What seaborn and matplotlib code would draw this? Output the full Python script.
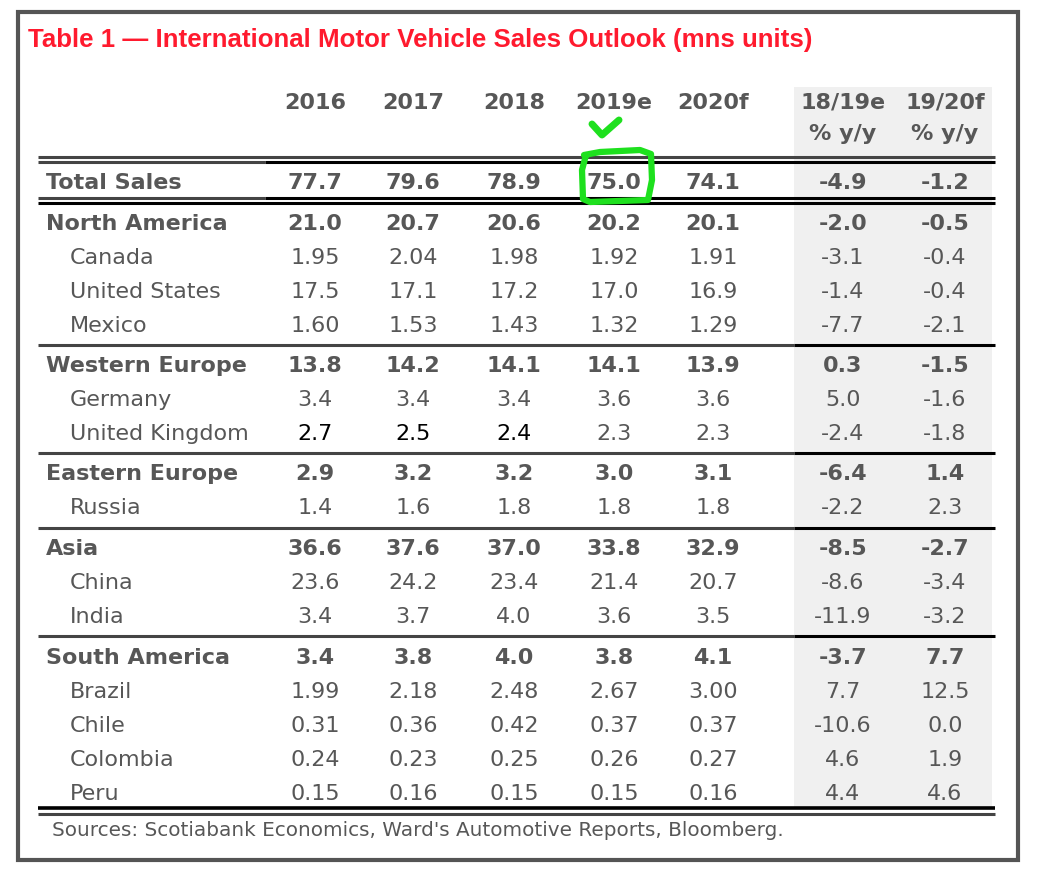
import matplotlib.pyplot as plt
import seaborn as sns
from matplotlib.patches import Rectangle

# =========================
# Data
# =========================
title = "Table 1 \u2014 International Motor Vehicle Sales Outlook (mns units)"
source = "Sources: Scotiabank Economics, Ward's Automotive Reports, Bloomberg."

year_cols = ["2016", "2017", "2018", "2019e", "2020f"]
yoy_top = ["18/19e", "19/20f"]
yoy_sub = ["% y/y", "% y/y"]

regions = ["Total Sales", "North America", "Canada", "United States", "Mexico",
           "Western Europe", "Germany", "United Kingdom",
           "Eastern Europe", "Russia",
           "Asia", "China", "India",
           "South America", "Brazil", "Chile", "Colombia", "Peru"]

v2016 = ["77.7", "21.0", "1.95", "17.5", "1.60", "13.8", "3.4", "2.7", "2.9", "1.4",
         "36.6", "23.6", "3.4", "3.4", "1.99", "0.31", "0.24", "0.15"]
v2017 = ["79.6", "20.7", "2.04", "17.1", "1.53", "14.2", "3.4", "2.5", "3.2", "1.6",
         "37.6", "24.2", "3.7", "3.8", "2.18", "0.36", "0.23", "0.16"]
v2018 = ["78.9", "20.6", "1.98", "17.2", "1.43", "14.1", "3.4", "2.4", "3.2", "1.8",
         "37.0", "23.4", "4.0", "4.0", "2.48", "0.42", "0.25", "0.15"]
v2019 = ["75.0", "20.2", "1.92", "17.0", "1.32", "14.1", "3.6", "2.3", "3.0", "1.8",
         "33.8", "21.4", "3.6", "3.8", "2.67", "0.37", "0.26", "0.15"]
v2020 = ["74.1", "20.1", "1.91", "16.9", "1.29", "13.9", "3.6", "2.3", "3.1", "1.8",
         "32.9", "20.7", "3.5", "4.1", "3.00", "0.37", "0.27", "0.16"]
yoy_1819 = ["-4.9", "-2.0", "-3.1", "-1.4", "-7.7", "0.3", "5.0", "-2.4", "-6.4", "-2.2",
            "-8.5", "-8.6", "-11.9", "-3.7", "7.7", "-10.6", "4.6", "4.4"]
yoy_1920 = ["-1.2", "-0.5", "-0.4", "-0.4", "-2.1", "-1.5", "-1.6", "-1.8", "1.4", "2.3",
            "-2.7", "-3.4", "-3.2", "7.7", "12.5", "0.0", "1.9", "4.6"]

group_rows = ["Total Sales", "North America", "Western Europe", "Eastern Europe",
              "Asia", "South America"]

# =========================
# Layout (pixel coordinates)
# =========================
sns.set_theme(style="white")
plt.rcParams['font.family'] = ['DejaVu Sans']

GREY = '#575757'
RED = '#FF1A2E'
GREEN = '#1EE01E'
FS = 16

fig = plt.figure(figsize=(10.46, 8.73), dpi=100)
ax = fig.add_axes([0, 0, 1, 1])
ax.set_xlim(0, 1046)
ax.set_ylim(873, 0)
ax.axis('off')

# outer frame
ax.add_patch(Rectangle((18, 12), 1000, 848, fill=False, ec='#555555', lw=3))

# shaded y/y columns
ax.add_patch(Rectangle((794, 87), 198, 720, fc='#F0F0F0', ec='none', zorder=0))

ax.text(28, 47, title, color=RED, fontsize=18.6, fontweight='bold', va='baseline',
        ha='left', family=['Liberation Sans', 'DejaVu Sans'])

col_x = [315, 413, 514, 614, 713]
yoy_x = [843, 945]

for x, lab in zip(col_x, year_cols):
    ax.text(x, 109, lab, color=GREY, fontsize=FS, fontweight='bold', ha='center', va='baseline')
for x, top, sub in zip(yoy_x, yoy_top, yoy_sub):
    ax.text(x, 109, top, color=GREY, fontsize=FS, fontweight='bold', ha='center', va='baseline')
    ax.text(x, 140, sub, color=GREY, fontsize=FS, fontweight='bold', ha='center', va='baseline')

# row positions (centre of each row)
row_y = []
y = 181
for i, r in enumerate(regions):
    if i > 0:
        y += 40.5 if r in group_rows else 34
    row_y.append(y)

cols = [v2016, v2017, v2018, v2019, v2020]
for i, r in enumerate(regions):
    bold = r in group_rows
    w = 'bold' if bold else 'normal'
    lx = 46 if bold else 70
    yb = row_y[i] + 8
    ax.text(lx, yb, r, color=GREY, fontsize=FS, fontweight=w, ha='left', va='baseline')
    for j, (x, vals) in enumerate(zip(col_x, cols)):
        c = 'black' if (r == "United Kingdom" and j < 3) else GREY
        ax.text(x, yb, vals[i], color=c, fontsize=FS, fontweight=w, ha='center', va='baseline')
    for x, vals in zip(yoy_x, [yoy_1819, yoy_1920]):
        ax.text(x, yb, vals[i], color=GREY, fontsize=FS, fontweight=w, ha='center', va='baseline')

# rules
x0, xm, x1 = 38, 265, 995
ax.hlines(157, x0, x1, color='#444444', lw=2.2)
ax.hlines(162, x0, xm, color='#444444', lw=2.2)
ax.hlines(162, xm, x1, color='black', lw=2.2)
ax.hlines(198, x0, xm, color='#444444', lw=2.2)
ax.hlines(198, xm, x1, color='black', lw=2.2)
ax.hlines(203, x0, x1, color='black', lw=2.2)

for i, r in enumerate(regions):
    if i > 1 and r in group_rows:
        ys = row_y[i - 1] + 21
        ax.hlines(ys, x0, 794, color='#444444', lw=2.2)
        ax.hlines(ys, 794, x1, color='black', lw=2.2)

yl = row_y[-1] + 16
ax.hlines(yl, x0, x1, color='black', lw=2.6)
ax.hlines(yl + 6, x0, x1, color='#444444', lw=2.2)

ax.text(52, yl + 28, source, color=GREY, fontsize=14.4, ha='left', va='baseline')

# hand-drawn highlight on 2019e total
ax.plot([584, 600, 640, 651, 652, 648, 590, 583, 582, 586],
        [155, 152, 150, 154, 180, 200, 202, 199, 170, 155],
        color=GREEN, lw=4.5, solid_joinstyle='round', solid_capstyle='round')
ax.plot([592, 602, 619], [124, 135, 120], color=GREEN, lw=5,
        solid_joinstyle='round', solid_capstyle='round')

plt.savefig('out.png', dpi=100)
